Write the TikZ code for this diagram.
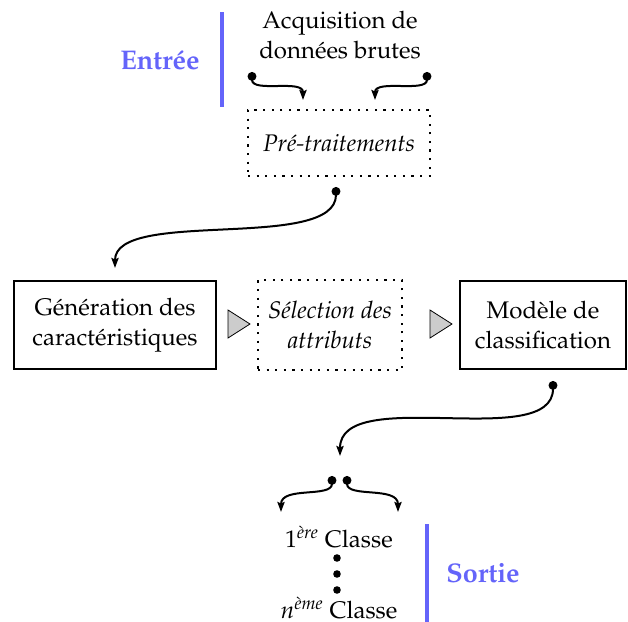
\documentclass[tikz,border=0pt]{standalone}
\usepackage[T1]{fontenc}
\usepackage{mathpazo}
\usetikzlibrary{arrows.meta}
\definecolor{accent}{RGB}{100,100,250}
\begin{document}
\begin{tikzpicture}[x=0.5pt,y=-0.5pt,
  txt/.style={font=\fontsize{12}{15.3}\selectfont, align=center, inner sep=0pt},
  block/.style={txt, draw, line width=1.4pt, minimum height=44pt},
  optblock/.style={txt, draw, line width=1.1pt, dash pattern=on 1.1pt off 3.2pt},
  flow/.style={line width=1pt, {Circle[length=4.4pt]}-{Stealth[length=5pt,width=3.6pt,inset=0.8pt]}},
  sidetag/.style={font=\fontsize{13.5}{15}\selectfont\bfseries, text=accent},
  sidebar/.style={draw=accent, line width=1.6pt},
  wedge/.style={fill=gray!40, draw=black, line width=0.4pt}]
\useasboundingbox (0,0) rectangle (628,622);

% input side
\node[sidetag] (in) at (160,60) {Entr\'ee};
\draw[sidebar] (222,12) -- (222,107);
\node[txt] (acq) at (340,35) {Acquisition de\\donn\'ees brutes};

% processing chain
\node[optblock, minimum width=91pt, minimum height=33pt] (pre) at (339,143) {\textit{Pr\'e-traitements}};
\node[block, minimum width=101pt] (gen) at (115,325) {G\'en\'eration des\\caract\'eristiques};
\node[optblock, minimum width=72pt, minimum height=45pt] (sel) at (330,325) {\textit{S\'election des}\\\textit{attributs}};
\node[block, minimum width=83pt] (mod) at (543,325) {Mod\`ele de\\classification};

\draw[wedge] (228,310) -- (250,324) -- (228,338) -- cycle;
\draw[wedge] (430,310) -- (452,324) -- (430,338) -- cycle;

% output side
\node[txt] (c1) at (339,537) {1\textsuperscript{\textit{\`ere}} Classe};
\node[txt] (cn) at (339,608) {$n$\textsuperscript{\textit{\`eme}} Classe};
\foreach \yy in {558,574,590} \fill (337,\yy) circle[radius=1.9pt];
\draw[sidebar] (427,524) -- (427,622);
\node[sidetag] (out) at (483,573) {Sortie};

% connector end points
\coordinate (acqL) at (252,72);
\coordinate (acqR) at (427,72);
\coordinate (preL) at (303,100);
\coordinate (preR) at (375,100);
\coordinate (preOut) at (336,187);
\coordinate (genIn) at (115,268);
\coordinate (modOut) at (553,381);
\coordinate (split) at (340,456);
\coordinate (splitL) at (332,476);
\coordinate (splitR) at (347,476);
\coordinate (c1L) at (281,512);
\coordinate (c1R) at (398,512);

% connectors
\draw[flow] (acqL) .. controls (252,93) and (303,79) .. (preL);
\draw[flow] (acqR) .. controls (427,93) and (375,79) .. (preR);
\draw[flow] (preOut) .. controls (336,252) and (115,208) .. (genIn);
\draw[flow] (modOut) .. controls (553,452) and (340,384) .. (split);
\draw[flow] (splitL) .. controls (332,498) and (281,486) .. (c1L);
\draw[flow] (splitR) .. controls (347,498) and (398,486) .. (c1R);
\end{tikzpicture}
\end{document}
